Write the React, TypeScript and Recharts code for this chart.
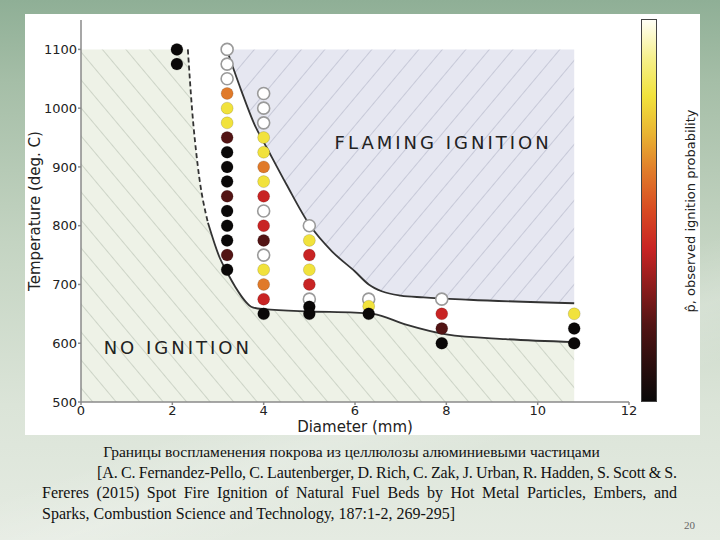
import React from 'react';
import { ComposedChart, Area, Line, Scatter, XAxis, YAxis, ReferenceDot } from 'recharts';

// observed ignition tests: one column per particle diameter (mm)
const diameters = [2.1, 3.2, 4.0, 5.0, 6.3, 7.9, 10.8];
const temps21 = [1100, 1075];
const probs21 = [0, 0];
const temps32 = [1100, 1075, 1050, 1025, 1000, 975, 950, 925, 900, 875, 850, 825, 800, 775, 750, 725];
const probs32 = [100, 100, 100, 60, 80, 80, 20, 0, 0, 0, 20, 0, 0, 0, 20, 0];
const temps40 = [1025, 1000, 975, 950, 925, 900, 875, 850, 825, 800, 775, 750, 725, 700, 675, 650];
const probs40 = [100, 100, 100, 80, 80, 60, 80, 40, 100, 40, 20, 100, 80, 60, 40, 0];
const temps50 = [800, 775, 750, 725, 700, 675, 662, 650];
const probs50 = [100, 80, 40, 80, 40, 100, 0, 0];
const temps63 = [675, 663, 650];
const probs63 = [100, 80, 0];
const temps79 = [675, 650, 625, 600];
const probs79 = [100, 40, 20, 0];
const temps108 = [650, 625, 600];
const probs108 = [80, 0, 0];
const columnTemps = [temps21, temps32, temps40, temps50, temps63, temps79, temps108];
const columnProbs = [probs21, probs32, probs40, probs50, probs63, probs79, probs108];

// ignition boundaries
const lowerDashX = [2.34, 2.43, 2.56, 2.78];
const lowerDashT = [1100, 1000, 900, 805];
const lowerX = [2.78, 3.04, 3.19, 3.37, 3.76, 4.0, 5.0, 6.0, 6.4, 7.1, 8.0, 9.3, 10.8];
const lowerT = [805, 745, 722, 697, 661, 658, 654, 652, 650, 632, 615, 607, 602];
const upperX = [3.19, 3.5, 3.8, 4.1, 4.5, 5.0, 5.5, 6.0, 6.3, 6.6, 7.0, 7.5, 8.5, 10.8];
const upperT = [1100, 1032, 972, 928, 870, 802, 756, 722, 700, 688, 681, 678, 674, 668];
const regionXMin = 0;
const regionTMin = 500;
const regionTMax = 1100;

const xTicks = [0, 2, 4, 6, 8, 10, 12];
const yTicks = [500, 600, 700, 800, 900, 1000, 1100];
const cbTicks = [0, 10, 20, 30, 40, 50, 60, 70, 80, 90, 100];

const cmapStops = [0, 10, 20, 30, 40, 50, 60, 70, 80, 90, 100];
const cmapColors = ['#0a0808', '#2c0e0e', '#521414', '#8c1c1c', '#c82424', '#d84a22', '#e07a2a', '#e9b332', '#f1e23c', '#f6f08c', '#fffff6'];

const hexToRgb = (h: string) => [1, 3, 5].map((i) => parseInt(h.slice(i, i + 2), 16));
const cmap = (p: number) => {
  let i = 0;
  while (i < cmapStops.length - 2 && p > cmapStops[i + 1]) i++;
  const t = (p - cmapStops[i]) / (cmapStops[i + 1] - cmapStops[i]);
  const a = hexToRgb(cmapColors[i]);
  const b = hexToRgb(cmapColors[i + 1]);
  const c = a.map((v, k) => Math.round(v + (b[k] - v) * t));
  return `rgb(${c[0]},${c[1]},${c[2]})`;
};

const observations = diameters.flatMap((x, i) =>
  columnTemps[i].map((t, j) => ({ x, t, p: columnProbs[i][j] }))
);
const dashData = lowerDashX.map((x, i) => ({ x, t: lowerDashT[i] }));
const lowerData = lowerX.map((x, i) => ({ x, t: lowerT[i] }));
const upperData = upperX.map((x, i) => ({ x, t: upperT[i] }));
const noIgnitionData = [{ x: regionXMin, t: regionTMax }, ...dashData, ...lowerData.slice(1)];
const flamingData = upperData.map((d) => ({ x: d.x, range: [d.t, regionTMax] }));

const FONT = '"DejaVu Sans", sans-serif';

const renderPoint = (props: any) => {
  const { cx, cy, payload } = props;
  if (cx == null || cy == null) return <g />;
  const open = payload.p >= 100;
  return (
    <circle
      cx={cx}
      cy={cy}
      r={6}
      fill={open ? '#ffffff' : cmap(payload.p)}
      stroke={open ? '#9a9a9a' : 'rgba(0,0,0,0.18)'}
      strokeWidth={open ? 1.6 : 0.8}
    />
  );
};

const regionLabel = (text: string) => (props: any) => (
  <text
    x={props.cx}
    y={props.cy}
    textAnchor="middle"
    dominantBaseline="central"
    fontFamily={FONT}
    fontSize={18}
    fill="#222"
    style={{ letterSpacing: 3 }}
  >
    {text}
  </text>
);

const cbGradient = `linear-gradient(to top, ${cmapColors
  .map((c, i) => `${c} ${cmapStops[i]}%`)
  .join(', ')})`;

export default function App() {
  return (
    <div
      style={{
        position: 'absolute',
        left: 0,
        top: 0,
        width: 720,
        height: 540,
        overflow: 'hidden',
        background:
          'linear-gradient(160deg, rgba(255,255,255,0) 62%, rgba(255,255,255,0.18) 70%, rgba(255,255,255,0) 78%), linear-gradient(180deg, #8faf96 0%, #a5bea7 15%, #c4d4c2 45%, #dbe4d8 75%, #e5ebe2 100%)',
      }}
    >
      <div style={{ position: 'absolute', left: 25, top: 14, width: 675, height: 421, background: '#fff', overflow: 'hidden' }}>
        <ComposedChart width={675} height={421} margin={{ top: 6, right: 0, bottom: 0, left: 0 }}>
          <defs>
            <pattern id="hatchNo" patternUnits="userSpaceOnUse" width="18" height="18" patternTransform="rotate(-40)">
              <rect width="18" height="18" fill="#eef2e7" />
              <line x1="0" y1="0" x2="0" y2="18" stroke="#b7c0b2" strokeWidth="1.2" />
            </pattern>
            <pattern id="hatchFlame" patternUnits="userSpaceOnUse" width="18" height="18" patternTransform="rotate(40)">
              <rect width="18" height="18" fill="#e6e7f1" />
              <line x1="0" y1="0" x2="0" y2="18" stroke="#b2b5c7" strokeWidth="1.2" />
            </pattern>
          </defs>
          <XAxis
            type="number"
            dataKey="x"
            domain={[0, 12]}
            ticks={xTicks}
            allowDataOverflow
            height={33}
            stroke="#8a8a8a"
            strokeWidth={1.5}
            tick={{ fill: '#222', fontSize: 13, fontFamily: FONT }}
            tickSize={3}
            tickMargin={1}
            label={{ value: 'Diameter (mm)', position: 'insideBottom', offset: 3, fill: '#222', fontSize: 15, fontFamily: FONT }}
          />
          <YAxis
            type="number"
            domain={[500, 1150]}
            ticks={yTicks}
            allowDataOverflow
            width={56}
            stroke="#8a8a8a"
            strokeWidth={1.5}
            tick={{ fill: '#222', fontSize: 13, fontFamily: FONT }}
            tickSize={3}
            tickMargin={1}
            label={{
              value: 'Temperature (deg. C)',
              angle: -90,
              position: 'insideLeft',
              offset: 10,
              fill: '#222',
              fontSize: 15,
              fontFamily: FONT,
              style: { textAnchor: 'middle' },
            }}
          />
          <YAxis
            yAxisId="cb"
            orientation="right"
            type="number"
            domain={[0, 100]}
            ticks={cbTicks}
            width={71}
            axisLine={false}
            tickLine={false}
            tickSize={0}
            tickMargin={31}
            tick={{ fill: '#222', fontSize: 13, fontFamily: FONT, textAnchor: 'start' }}
            label={{
              value: 'p\u0302, observed ignition probability',
              angle: -90,
              position: 'insideRight',
              offset: 10,
              fill: '#222',
              fontSize: 13,
              fontFamily: FONT,
              style: { textAnchor: 'middle' },
            }}
          />
          <Area
            data={noIgnitionData}
            dataKey="t"
            baseValue={regionTMin}
            type="monotoneX"
            stroke="none"
            fill="url(#hatchNo)"
            fillOpacity={1}
            isAnimationActive={false}
          />
          <Area
            data={flamingData}
            dataKey="range"
            type="monotoneX"
            stroke="none"
            fill="url(#hatchFlame)"
            fillOpacity={1}
            isAnimationActive={false}
          />
          <Line data={dashData} dataKey="t" type="monotoneX" stroke="#333" strokeWidth={1.8} strokeDasharray="5 3" dot={false} isAnimationActive={false} />
          <Line data={lowerData} dataKey="t" type="monotoneX" stroke="#333" strokeWidth={1.8} dot={false} isAnimationActive={false} />
          <Line data={upperData} dataKey="t" type="monotoneX" stroke="#333" strokeWidth={1.8} dot={false} isAnimationActive={false} />
          <Scatter data={observations} dataKey="t" shape={renderPoint} isAnimationActive={false} />
          <ReferenceDot x={7.93} y={941} r={0} shape={regionLabel('FLAMING IGNITION')} />
          <ReferenceDot x={2.12} y={592} r={0} shape={regionLabel('NO IGNITION')} />
        </ComposedChart>
        <div
          style={{
            position: 'absolute',
            left: 616,
            top: 5,
            width: 16,
            height: 383,
            boxSizing: 'border-box',
            border: '1px solid #444',
            background: cbGradient,
          }}
        />
      </div>
      <div
        style={{
          position: 'absolute',
          left: 42,
          top: 442,
          width: 635,
          fontFamily: '"Liberation Serif", serif',
          fontSize: 16,
          lineHeight: '20.5px',
          color: '#111',
        }}
      >
        <div style={{ textAlign: 'center', paddingRight: 16, fontSize: 15.5 }}>
          Границы воспламенения покрова из целлюлозы алюминиевыми частицами
        </div>
        <div style={{ paddingLeft: 55, textAlign: 'justify', textAlignLast: 'justify', whiteSpace: 'nowrap', wordSpacing: -2, letterSpacing: -0.1 }}>
          [A. C. Fernandez-Pello, C. Lautenberger, D. Rich, C. Zak, J. Urban, R. Hadden, S. Scott &amp; S.
        </div>
        <div style={{ textAlign: 'justify', textAlignLast: 'justify' }}>
          Fereres (2015) Spot Fire Ignition of Natural Fuel Beds by Hot Metal Particles, Embers, and
        </div>
        <div>Sparks, Combustion Science and Technology, 187:1-2, 269-295]</div>
      </div>
      <div
        style={{
          position: 'absolute',
          left: 684,
          top: 519,
          fontFamily: '"Liberation Serif", serif',
          fontSize: 11,
          color: '#666',
        }}
      >
        20
      </div>
    </div>
  );
}
